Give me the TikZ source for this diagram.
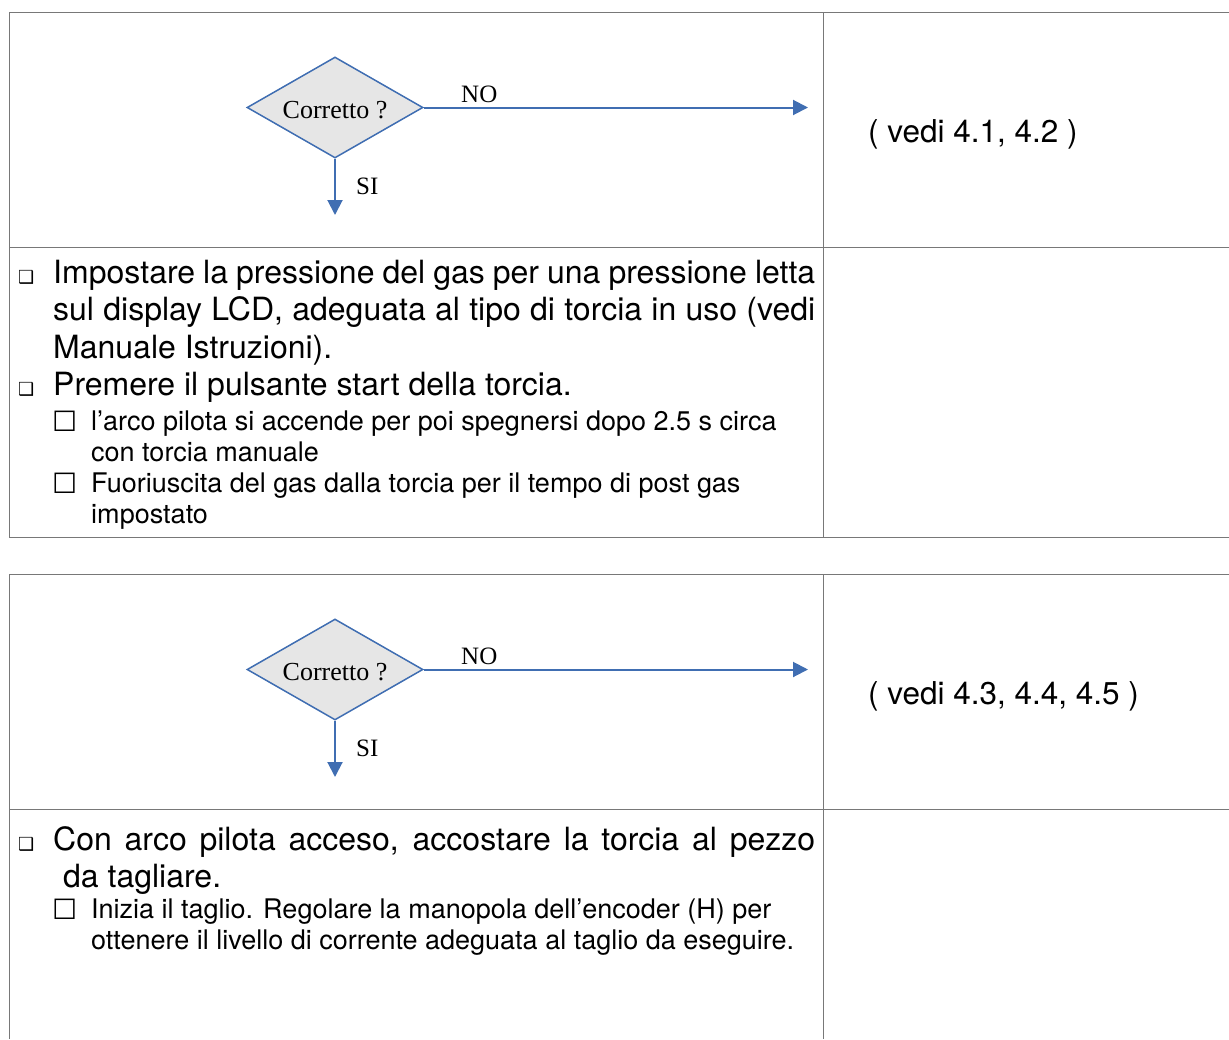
\documentclass[tikz,border=0pt]{standalone}
\usepackage{fontspec}
\setmainfont{TeX Gyre Heros}
\newfontfamily\flowfont{Liberation Serif}
\newfontfamily\dingfont{DejaVu Sans}
\usetikzlibrary{shapes.geometric, arrows.meta, calc}
\definecolor{flowblue}{RGB}{64,110,178}
\definecolor{flowgray}{RGB}{230,230,230}
\definecolor{ruleline}{RGB}{120,120,120}
\tikzset{
  decision/.style={
    diamond,
    aspect=1.74,
    minimum width=176pt,
    minimum height=101pt,
    inner sep=0pt,
    draw=flowblue,
    line width=1.5pt,
    fill=flowgray,
    font=\flowfont\fontsize{26}{30}\selectfont
  },
  flow label/.style={
    anchor=base west,
    inner sep=0pt,
    font=\flowfont\fontsize{25}{30}\selectfont
  },
  flow arrow/.style={
    -{Triangle[length=15pt, width=15pt]},
    line width=2pt,
    draw=flowblue
  },
  table rule/.style={
    draw=ruleline,
    line width=1pt
  },
  step text/.style={
    anchor=base west,
    inner sep=0pt,
    font=\fontsize{32}{37.5}\selectfont
  },
  ref text/.style={
    anchor=base west,
    inner sep=0pt,
    font=\fontsize{31.5}{37.5}\selectfont
  },
  sub text/.style={
    anchor=base west,
    inner sep=0pt,
    font=\fontsize{27}{31}\selectfont
  },
  bullet box/.style={
    anchor=base west,
    inner sep=0pt,
    font=\dingfont\fontsize{18}{18}\selectfont
  },
  check box/.style={
    anchor=base west,
    inner sep=0pt,
    font=\dingfont\fontsize{28}{28}\selectfont
  }
}
\begin{document}
\begin{tikzpicture}[x=1pt, y=-1pt]
    \useasboundingbox (0,0) rectangle (1229,1039);

    % tabella 1: bordi
    \draw[table rule] (9,12) -- (1229,12);
    \draw[table rule] (9,247) -- (1229,247);
    \draw[table rule] (9,537) -- (1229,537);
    \draw[table rule] (9,12) -- (9,537);
    \draw[table rule] (823,12) -- (823,537);

    % tabella 2: bordi
    \draw[table rule] (9,574) -- (1229,574);
    \draw[table rule] (9,809) -- (1229,809);
    \draw[table rule] (9,574) -- (9,1039);
    \draw[table rule] (823,574) -- (823,1039);

    % decisione 1
    \node[decision] (dia1) at (335,107.5) {\raisebox{-11pt}[0pt][0pt]{Corretto ?}};
    \coordinate (no1) at (808,107.5);
    \coordinate (si1) at (335,215);
    \draw[flow arrow] (dia1.east) -- (no1);
    \draw[flow arrow] (dia1.south) -- (si1);
    \node[flow label] (nolab1) at (461,102) {NO};
    \node[flow label] (silab1) at (356,194) {SI};
    \node[ref text] (ref1) at (868,142) {( vedi 4.1, 4.2 )};

    % istruzioni 1
    \node[bullet box] (bul1) at (18,283) {❑};
    \node[step text] (step1) at (53,283) {\parbox[t]{762pt}{Impostare la pressione del gas per una pressione letta\linebreak sul display LCD, adeguata al tipo di torcia in uso (vedi\linebreak Manuale Istruzioni).}};
    \node[bullet box] (bul2) at (18,395) {❑};
    \node[step text] (step2) at (53,395) {Premere il pulsante start della torcia.};
    \node[check box] (box1) at (52,431) {☐};
    \node[sub text] (sub1) at (91,430) {\parbox[t]{730pt}{\raggedright l’arco pilota si accende per poi spegnersi dopo 2.5 s circa\\ con torcia manuale}};
    \node[check box] (box2) at (52,493) {☐};
    \node[sub text] (sub2) at (91,492) {\parbox[t]{730pt}{\raggedright Fuoriuscita del gas dalla torcia per il tempo di post gas\\ impostato}};

    % decisione 2
    \node[decision] (dia2) at (335,669.5) {\raisebox{-11pt}[0pt][0pt]{Corretto ?}};
    \coordinate (no2) at (808,669.5);
    \coordinate (si2) at (335,777);
    \draw[flow arrow] (dia2.east) -- (no2);
    \draw[flow arrow] (dia2.south) -- (si2);
    \node[flow label] (nolab2) at (461,664) {NO};
    \node[flow label] (silab2) at (356,756) {SI};
    \node[ref text] (ref2) at (868,704) {( vedi 4.3, 4.4, 4.5 )};

    % istruzioni 2
    \node[bullet box] (bul3) at (18,850) {❑};
    \node[step text] (step3) at (53,850) {\parbox[t]{762pt}{Con arco pilota acceso, accostare la torcia al pezzo\linebreak\hspace*{10pt}da tagliare.}};
    \node[check box] (box3) at (52,919) {☐};
    \node[sub text] (sub3) at (91,918) {\parbox[t]{730pt}{\raggedright Inizia il taglio. Regolare la manopola dell’encoder (H) per\\ ottenere il livello di corrente adeguata al taglio da eseguire.}};

\end{tikzpicture}
\end{document}
